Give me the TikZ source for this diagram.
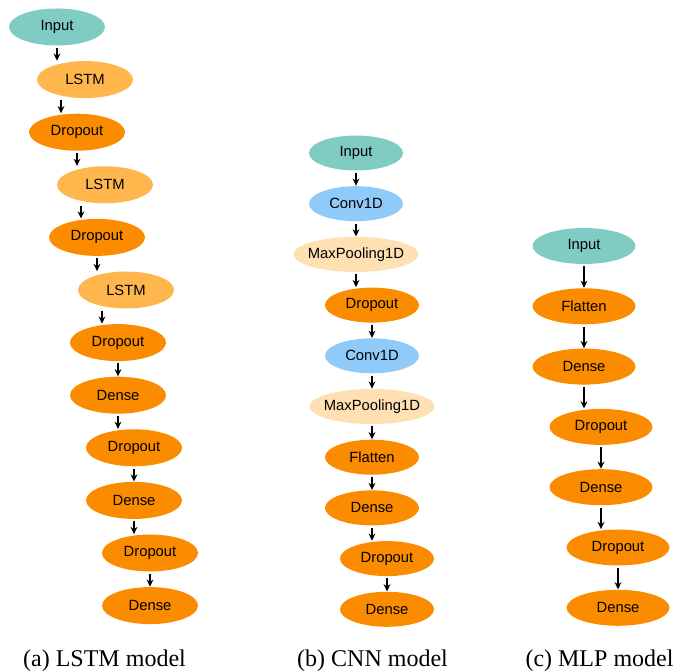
\documentclass[tikz,border=0pt]{standalone}
\usepackage{fontspec}
\setmainfont{Liberation Serif}
\setsansfont{Liberation Sans}
\usepackage{tikz}
\usetikzlibrary{positioning, arrows, arrows.meta, shapes.geometric}
\definecolor{inteal}{HTML}{80CBC4}
\definecolor{lstmorange}{HTML}{FFB74D}
\definecolor{deeporange}{HTML}{FB8C00}
\definecolor{convblue}{HTML}{90CAF9}
\definecolor{poolcream}{HTML}{FFE0B2}
\tikzstyle{layer} = [ellipse, inner sep=0pt, text=black,
font=\sffamily\fontsize{7.4}{8}\selectfont]
\tikzstyle{iblock} = [layer, fill=inteal]
\tikzstyle{lblock} = [layer, fill=lstmorange]
\tikzstyle{dblock} = [layer, fill=deeporange]
\tikzstyle{cblock} = [layer, fill=convblue]
\tikzstyle{pblock} = [layer, fill=poolcream, minimum width=62.5pt, inner xsep=-2pt]
\tikzstyle{caption} = [inner sep=0pt, font=\rmfamily\fontsize{12}{14}\selectfont]
\tikzstyle{arrow} = [line width=0.65pt,->,>={Stealth[length=3.6pt,width=3.4pt]},shorten <=1pt]

\begin{document}
\begin{tikzpicture}
        \useasboundingbox (0,0) rectangle (337.5pt,-336pt);
        % (a) LSTM model
        \begin{scope}[node distance=26.3pt, every node/.append style={minimum width=48pt, minimum height=18.5pt}]
        \node (InputA) [iblock] at (28.5pt,-13.5pt) {Input};
        \node (LSTMa) [lblock, below of=InputA, xshift=14pt] {LSTM};
        \node (DropA) [dblock, below of=LSTMa, xshift=-4pt] {Dropout};
        \node (LSTMb) [lblock, below of=DropA, xshift=14pt] {LSTM};
        \node (DropB) [dblock, below of=LSTMb, xshift=-4pt] {Dropout};
        \node (LSTMc) [lblock, below of=DropB, xshift=14.5pt] {LSTM};
        \node (DropC) [dblock, below of=LSTMc, xshift=-4pt] {Dropout};
        \node (DenseA) [dblock, below of=DropC] {Dense};
        \node (DropD) [dblock, below of=DenseA, xshift=8pt] {Dropout};
        \node (DenseB) [dblock, below of=DropD] {Dense};
        \node (DropE) [dblock, below of=DenseB, xshift=8pt] {Dropout};
        \node (DenseC) [dblock, below of=DropE] {Dense};
        \end{scope}

        \draw [arrow] (InputA.south) -- (InputA.south |- LSTMa.north);
        \draw [arrow] ([xshift=-12pt]LSTMa.south) -- ([xshift=-12pt]LSTMa.south |- DropA.north);
        \draw [arrow] (DropA.south) -- (DropA.south |- LSTMb.north);
        \draw [arrow] ([xshift=-12pt]LSTMb.south) -- ([xshift=-12pt]LSTMb.south |- DropB.north);
        \draw [arrow] (DropB.south) -- (DropB.south |- LSTMc.north);
        \draw [arrow] ([xshift=-12pt]LSTMc.south) -- ([xshift=-12pt]LSTMc.south |- DropC.north);
        \draw [arrow] (DropC) -- (DenseA);
        \draw [arrow] (DenseA.south) -- (DenseA.south |- DropD.north);
        \draw [arrow] (DropD) -- (DenseB);
        \draw [arrow] (DenseB.south) -- (DenseB.south |- DropE.north);
        \draw [arrow] (DropE) -- (DenseC);

        % (b) CNN model
        \begin{scope}[node distance=25.35pt, every node/.append style={minimum width=47pt, minimum height=17.5pt}]
        \node (InputB) [iblock] at (178pt,-76.5pt) {Input};
        \node (ConvA) [cblock, below of=InputB] {Conv1D};
        \node (PoolA) [pblock, below of=ConvA] {MaxPooling1D};
        \node (DropF) [dblock, below of=PoolA, xshift=8pt] {Dropout};
        \node (ConvB) [cblock, below of=DropF] {Conv1D};
        \node (PoolB) [pblock, below of=ConvB] {MaxPooling1D};
        \node (FlatA) [dblock, below of=PoolB] {Flatten};
        \node (DenseD) [dblock, below of=FlatA] {Dense};
        \node (DropG) [dblock, below of=DenseD, xshift=7.5pt] {Dropout};
        \node (DenseE) [dblock, below of=DropG] {Dense};
        \end{scope}

        \draw [arrow] (InputB) -- (ConvA);
        \draw [arrow] (ConvA) -- (PoolA);
        \draw [arrow] (PoolA.south) -- (PoolA.south |- DropF.north);
        \draw [arrow] (DropF) -- (ConvB);
        \draw [arrow] (ConvB) -- (PoolB);
        \draw [arrow] (PoolB) -- (FlatA);
        \draw [arrow] (FlatA) -- (DenseD);
        \draw [arrow] (DenseD.south) -- (DenseD.south |- DropG.north);
        \draw [arrow] (DropG) -- (DenseE);

        % (c) MLP model
        \begin{scope}[node distance=30.15pt, every node/.append style={minimum width=51.5pt, minimum height=18pt}]
        \node (InputC) [iblock] at (292pt,-123pt) {Input};
        \node (FlatB) [dblock, below of=InputC] {Flatten};
        \node (DenseF) [dblock, below of=FlatB] {Dense};
        \node (DropH) [dblock, below of=DenseF, xshift=8.5pt] {Dropout};
        \node (DenseG) [dblock, below of=DropH] {Dense};
        \node (DropI) [dblock, below of=DenseG, xshift=8.5pt] {Dropout};
        \node (DenseH) [dblock, below of=DropI] {Dense};
        \end{scope}

        \draw [arrow] (InputC) -- (FlatB);
        \draw [arrow] (FlatB) -- (DenseF);
        \draw [arrow] (DenseF.south) -- (DenseF.south |- DropH.north);
        \draw [arrow] (DropH) -- (DenseG);
        \draw [arrow] (DenseG.south) -- (DenseG.south |- DropI.north);
        \draw [arrow] (DropI) -- (DenseH);

        % captions
        \node (CapA) [caption] at (52.25pt,-330.5pt) {(a) LSTM model};
        \node (CapB) [caption] at (186.25pt,-330.5pt) {(b) CNN model};
        \node (CapC) [caption] at (299.75pt,-330.5pt) {(c) MLP model};
\end{tikzpicture}
\end{document}
